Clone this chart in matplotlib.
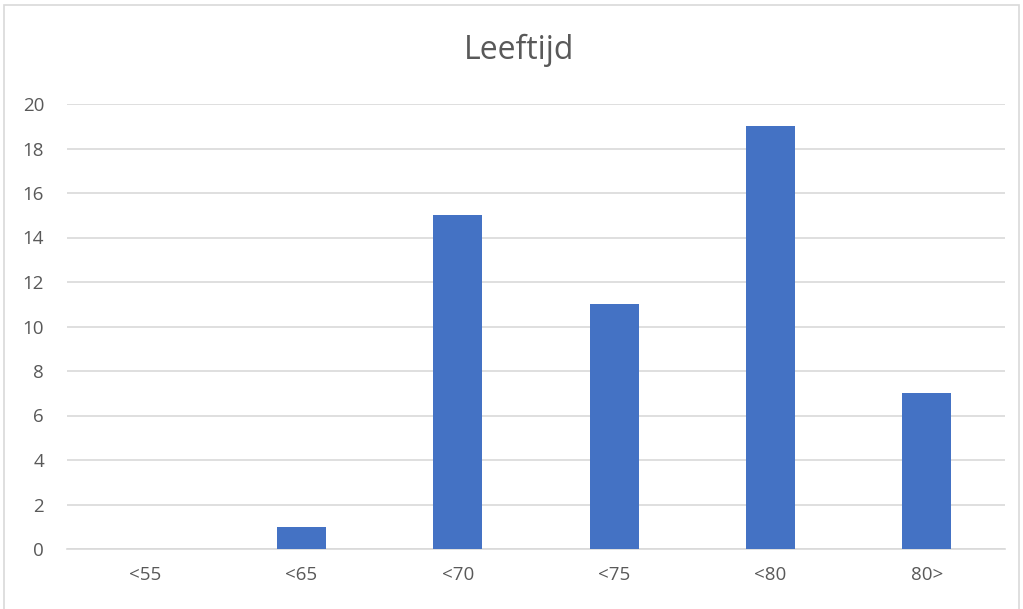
import matplotlib
matplotlib.use("Agg")
import matplotlib.pyplot as plt
from matplotlib.patches import Rectangle

categories = ["<55", "<65", "<70", "<75", "<80", "80>"]
values = [0, 1, 15, 11, 19, 7]
yticks = [0, 2, 4, 6, 8, 10, 12, 14, 16, 18, 20]

W, H = 1023, 609
fig = plt.figure(figsize=(W / 100, H / 100), dpi=100)
fig.patch.set_facecolor("white")

# outer chart border (bottom cut off)
fig.add_artist(Rectangle((4 / W, -0.01), (1019 - 4) / W, 1.01 - 5 / H,
                         transform=fig.transFigure, fill=False,
                         edgecolor="#d9d9d9", linewidth=1.2))

left, right = 67 / W, 1005 / W
top, bottom = 1 - 104 / H, 1 - 549 / H
ax = fig.add_axes([left, bottom, right - left, top - bottom])

x = range(len(categories))
ax.bar(x, values, width=0.315, color="#4472C4", zorder=3)
ax.set_xlim(-0.5, len(categories) - 0.5)
ax.set_ylim(0, 20)
ax.set_yticks(yticks)
ax.set_xticks(list(x))
ax.set_xticklabels(categories)

font = "Open Sans"
for lab in ax.get_xticklabels() + ax.get_yticklabels():
    lab.set_fontfamily(font)
    lab.set_fontsize(13.5)
    lab.set_color("#595959")

ax.grid(axis="y", color="#d9d9d9", linewidth=1.2, zorder=0)
ax.tick_params(axis="both", length=0)
ax.tick_params(axis="y", pad=16.5)
ax.tick_params(axis="x", pad=12)
for s in ["top", "right", "left"]:
    ax.spines[s].set_visible(False)
ax.spines["bottom"].set_color("#d9d9d9")
ax.spines["bottom"].set_linewidth(1.2)

fig.text(519 / W, 1 - 50 / H, "Leeftijd", ha="center", va="center",
         fontsize=23, color="#595959", fontfamily=font)

fig.savefig("out.png", dpi=100, facecolor="white")
